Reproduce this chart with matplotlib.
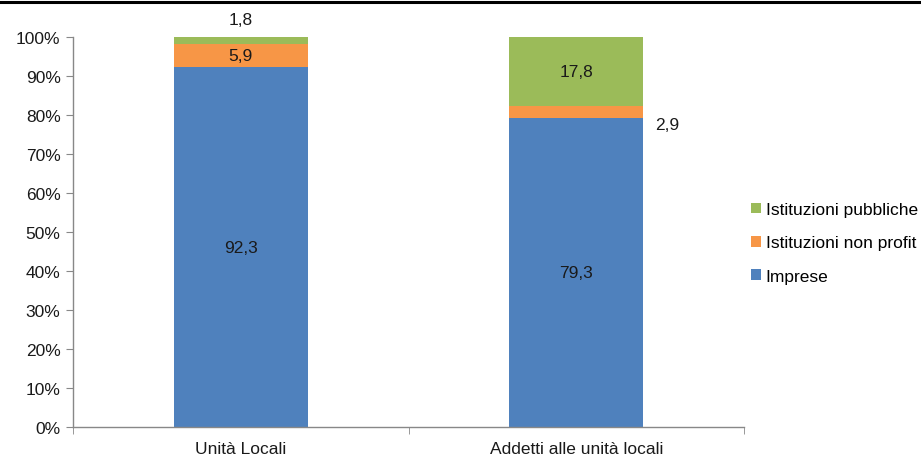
import matplotlib
matplotlib.use("Agg")
import matplotlib.pyplot as plt
from matplotlib.ticker import FixedLocator, NullFormatter
import numpy as np

plt.rcParams['font.family'] = ['Liberation Sans', 'DejaVu Sans']

categories = ["Unità Locali", "Addetti alle unità locali"]
series_names = ["Imprese", "Istituzioni non profit", "Istituzioni pubbliche"]
imprese = [92.3, 79.3]
non_profit = [5.9, 2.9]
pubbliche = [1.8, 17.8]
y_ticks = [0, 10, 20, 30, 40, 50, 60, 70, 80, 90, 100]

colors = ["#4F81BD", "#F79646", "#9BBB59"]
txt_col = "#1a1a1a"
fs = 12.5

fig = plt.figure(figsize=(9.21, 4.56), dpi=100)
ax = fig.add_axes([0.0793, 0.0614, 0.7287, 0.8553])

x = np.arange(len(categories))
width = 0.4
bottom = np.zeros(len(categories))
for vals, name, col in zip([imprese, non_profit, pubbliche], series_names, colors):
    ax.bar(x, vals, width, bottom=bottom, color=col, label=name, zorder=2)
    bottom = bottom + np.array(vals)

def fmt(v):
    return f"{v:.1f}".replace(".", ",")

# Imprese: centred in segment
for i, v in enumerate(imprese):
    ax.text(x[i], v / 2, fmt(v), ha="center", va="center", fontsize=fs, color=txt_col)
# Non profit
ax.text(x[0], imprese[0] + non_profit[0] / 2, fmt(non_profit[0]), ha="center", va="center",
        fontsize=fs, color=txt_col)
ax.text(x[1] + width / 2 + 0.07, imprese[1] + non_profit[1] / 2 - 3.2, fmt(non_profit[1]),
        ha="center", va="center", fontsize=fs, color=txt_col)
# Pubbliche
ax.text(x[0], 104.6, fmt(pubbliche[0]), ha="center", va="center", fontsize=fs,
        color=txt_col, clip_on=False)
ax.text(x[1], imprese[1] + non_profit[1] + pubbliche[1] / 2, fmt(pubbliche[1]),
        ha="center", va="center", fontsize=fs, color=txt_col)

ax.set_xlim(-0.5, 1.5)
ax.set_ylim(0, 100)
ax.set_yticks(y_ticks)
ax.set_yticklabels([f"{t}%" for t in y_ticks], fontsize=fs, color=txt_col)
ax.set_xticks(x)
ax.set_xticklabels(categories, fontsize=fs, color=txt_col)
ax.tick_params(axis="x", length=0, pad=10)
ax.xaxis.set_minor_locator(FixedLocator([-0.5, 0.5, 1.5]))
ax.xaxis.set_minor_formatter(NullFormatter())
ax.tick_params(axis="x", which="minor", length=5, color="#888888", direction="out")
ax.tick_params(axis="y", length=5, color="#888888", direction="out", pad=4)

for s in ["top", "right"]:
    ax.spines[s].set_visible(False)
for s in ["left", "bottom"]:
    ax.spines[s].set_color("#888888")
    ax.spines[s].set_linewidth(1.0)

handles, labels = ax.get_legend_handles_labels()
fig.legend(handles[::-1], labels[::-1], loc="center left",
           bbox_to_anchor=(0.8155, 0.465), frameon=False, fontsize=fs,
           handlelength=0.55, handleheight=0.55, handletextpad=0.3,
           labelspacing=1.05, borderaxespad=0, borderpad=0)

# frame line across the top of the figure
fig.add_artist(plt.Line2D([0, 1], [0.994, 0.994], transform=fig.transFigure,
                          color="black", linewidth=2.2))

fig.savefig("out.png", dpi=100)
